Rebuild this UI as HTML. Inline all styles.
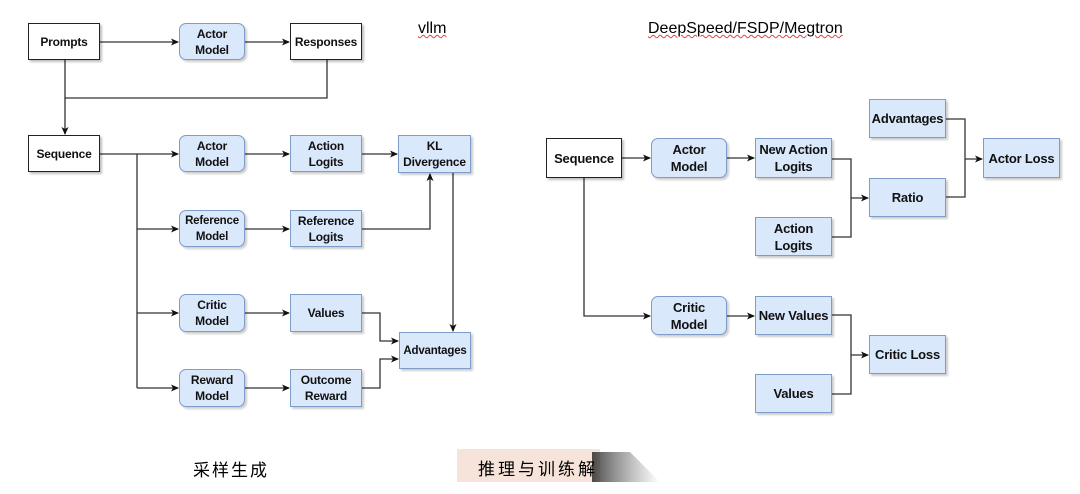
<!DOCTYPE html>
<html><head><meta charset="utf-8"><style>
body{margin:0;background:#fff;width:1080px;height:494px;overflow:hidden;position:relative;font-family:"Liberation Sans","Noto Sans CJK SC",sans-serif}
svg{position:absolute;left:0;top:0}
.b{position:absolute;box-sizing:border-box;display:flex;align-items:center;justify-content:center;text-align:center;font-size:12px;font-weight:bold;line-height:16px;color:#111;white-space:nowrap;letter-spacing:-0.2px}
.w{background:#fff;border:1.3px solid #222;box-shadow:2px 2px 2px rgba(0,0,0,.25)}
.u{background:#dae8fc;border:1.3px solid #7e9cc8;box-shadow:2px 2px 2px rgba(0,0,0,.2)}
.r{border-radius:7px}
.R{font-size:13px;line-height:17px}
</style></head><body>
<svg width="1080" height="494">
<defs><marker id="a" markerWidth="8" markerHeight="8" refX="7" refY="4" orient="auto" markerUnits="userSpaceOnUse"><path d="M0,0.5 L8,4 L0,7.5 L2,4z" fill="#111"/></marker></defs>
<g stroke="#333" stroke-width="1.3" fill="none">
<path d="M100,42H178" marker-end="url(#a)"/>
<path d="M245,42H289" marker-end="url(#a)"/>
<path d="M65,60V98H327V60"/>
<path d="M65,98V134" marker-end="url(#a)"/>
<path d="M100,154H178" marker-end="url(#a)"/>
<path d="M137,154V388"/>
<path d="M137,229H178" marker-end="url(#a)"/>
<path d="M137,313H178" marker-end="url(#a)"/>
<path d="M137,388H178" marker-end="url(#a)"/>
<path d="M245,154H289" marker-end="url(#a)"/>
<path d="M245,229H289" marker-end="url(#a)"/>
<path d="M245,313H289" marker-end="url(#a)"/>
<path d="M245,388H289" marker-end="url(#a)"/>
<path d="M362,154H397" marker-end="url(#a)"/>
<path d="M362,229H430V174" marker-end="url(#a)"/>
<path d="M453,173V331" marker-end="url(#a)"/>
<path d="M362,313H380V341H398" marker-end="url(#a)"/>
<path d="M362,388H380V359H398" marker-end="url(#a)"/>
<path d="M622,158H650" marker-end="url(#a)"/>
<path d="M727,158H754" marker-end="url(#a)"/>
<path d="M584,178V316H650" marker-end="url(#a)"/>
<path d="M727,316H754" marker-end="url(#a)"/>
<path d="M832,159H851V237H832"/>
<path d="M851,198H868" marker-end="url(#a)"/>
<path d="M946,119H965V197H946"/>
<path d="M965,159H982" marker-end="url(#a)"/>
<path d="M832,315H851V394H832"/>
<path d="M851,355H868" marker-end="url(#a)"/>
</g>
<defs><linearGradient id="g" x1="0" x2="1"><stop offset="0" stop-color="#222" stop-opacity=".95"/><stop offset="1" stop-color="#555" stop-opacity="0"/></linearGradient></defs>
<rect x="457" y="449" width="143" height="33" fill="#f6e3d9"/>
<path d="M592,452 L630,452 L660,482 L592,482z" fill="url(#g)" opacity=".85"/>
</svg>
<div class="b w" style="left:28px;top:23px;width:72px;height:37px">Prompts</div>
<div class="b u r" style="left:179px;top:23px;width:66px;height:37px">Actor<br>Model</div>
<div class="b w" style="left:290px;top:23px;width:72px;height:37px">Responses</div>
<div style="position:absolute;left:418px;top:20px;font-size:16px;text-decoration:underline wavy #d44;text-decoration-thickness:1px">vllm</div>
<div style="position:absolute;left:648px;top:20px;font-size:16px;text-decoration:underline wavy #d44;text-decoration-thickness:1px">DeepSpeed/FSDP/Megtron</div>
<div class="b w" style="left:28px;top:135px;width:72px;height:37px">Sequence</div>
<div class="b u r" style="left:179px;top:135px;width:66px;height:37px">Actor<br>Model</div>
<div class="b u" style="left:290px;top:135px;width:72px;height:37px">Action<br>Logits</div>
<div class="b u" style="left:398px;top:135px;width:73px;height:38px">KL<br>Divergence</div>
<div class="b u r" style="left:179px;top:210px;width:66px;height:37px;font-size:11.5px">Reference<br>Model</div>
<div class="b u" style="left:290px;top:210px;width:72px;height:37px">Reference<br>Logits</div>
<div class="b u r" style="left:179px;top:294px;width:66px;height:38px">Critic<br>Model</div>
<div class="b u" style="left:290px;top:294px;width:72px;height:38px">Values</div>
<div class="b u" style="left:399px;top:332px;width:72px;height:37px;font-size:11.5px">Advantages</div>
<div class="b u r" style="left:179px;top:369px;width:66px;height:38px">Reward<br>Model</div>
<div class="b u" style="left:290px;top:369px;width:72px;height:38px">Outcome<br>Reward</div>
<div style="position:absolute;left:193px;top:456px;font-size:17px;letter-spacing:2px">采样生成</div>
<div style="position:absolute;left:478px;top:455px;font-size:17px;letter-spacing:3px">推理与训练解</div>
<div class="b w R" style="left:546px;top:138px;width:76px;height:40px">Sequence</div>
<div class="b u r R" style="left:651px;top:138px;width:76px;height:40px">Actor<br>Model</div>
<div class="b u R" style="left:755px;top:138px;width:77px;height:40px">New Action<br>Logits</div>
<div class="b u R" style="left:755px;top:217px;width:77px;height:39px">Action<br>Logits</div>
<div class="b u R" style="left:869px;top:99px;width:77px;height:39px">Advantages</div>
<div class="b u R" style="left:869px;top:178px;width:77px;height:39px">Ratio</div>
<div class="b u R" style="left:983px;top:138px;width:77px;height:40px">Actor Loss</div>
<div class="b u r R" style="left:651px;top:296px;width:76px;height:39px">Critic<br>Model</div>
<div class="b u R" style="left:755px;top:296px;width:77px;height:39px">New Values</div>
<div class="b u R" style="left:869px;top:335px;width:77px;height:39px">Critic Loss</div>
<div class="b u R" style="left:755px;top:374px;width:77px;height:39px">Values</div>
</body></html>
